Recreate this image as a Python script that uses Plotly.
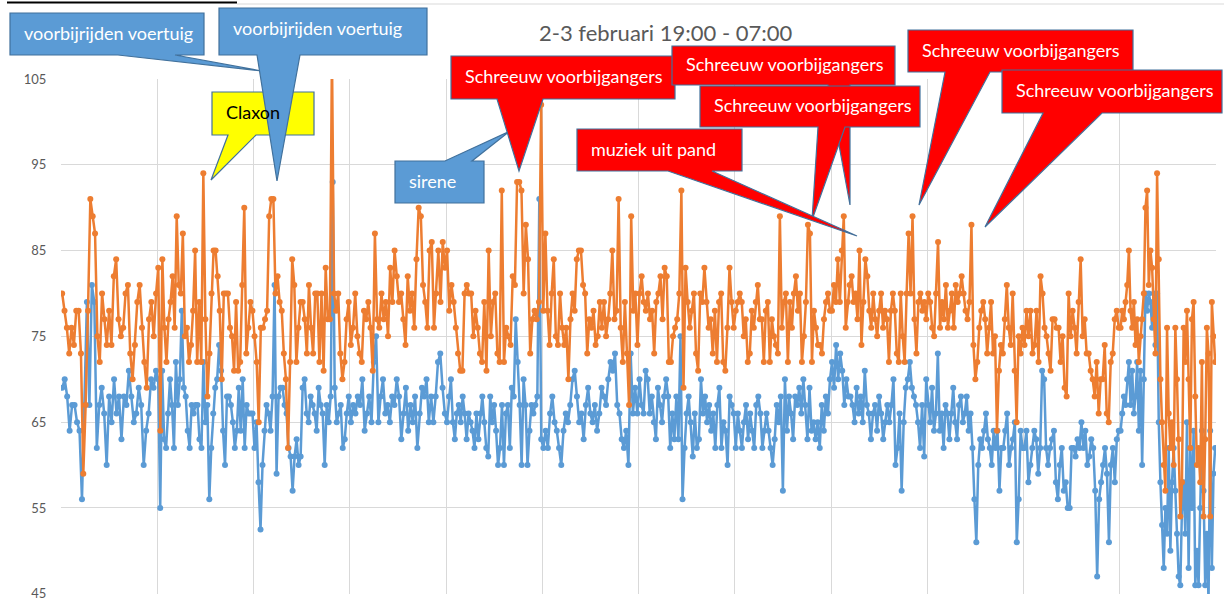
import plotly.graph_objects as go

# ---- data: noise level (dB) per hour, 2-3 februari 19:00 - 07:00 ----
b01 = [69,70,68,64,67,67,65,64,56,67,79,67,81,79,62,67,69,66,60,68,65,70,66,68,63,68,67,71,68,65,66,69,67,60,64,66,70,69,71]
o01 = [80,78,76,73,76,74,78,78,73,59,67,78,91,89,87,75,72,80,77,74,78,74,82,84,77,75,76,80,81,73,70,74,79,81,76,72,69,77,79,75,80]
b02 = [70,55,71,63,62,66,70,67,62,72,67,70,78,69,68,64,62,67,66,67,67,63,62,72,65,67,56,62,66,69,70,74,71,64,60,68,68,67,65,62,64,69,64,70,62,67,66,66,66]
o02 = [83,64,84,76,72,77,79,82,76,89,81,80,87,75,76,72,74,78,85,72,79,72,94,77,68,73,80,85,85,82,78,70,80,80,80,76,75,71,79,71,72,81,90,73,76,79,78]
b03 = [62,65,58,52.5,60,64,67,66,64,68,81,59,68,69,69,67,66,62,61,57,61,63,60,61,69,70,66,65,68,67,66,64,69,67,66,60,67,65,68,93,69,65,66,67,62,63,66,68]
o03 = [75,72,65,76,76,77,78,89,91,91,80,82,79,78,73,70,62,72,84,81,72,76,79,79,77,73,81,76,73,80,80,72,80,71,83,77,77,108,80,78,80,73,70,72,77,79]
b04 = [65,67,66,68,67,70,64,66,68,65,72,75,65,68,70,66,67,65,68,67,70,68,63,66,69,64,67,65,68,62,66,69,68,70,65,68,65,68,72,73,69,66]
o04 = [74,76,80,75,73,72,78,77,79,76,71,87,77,76,80,77,79,75,83,79,85,82,79,80,77,74,82,78,80,76,84,90,89,81,79,76,85,86,76,80,85,79,86,83]
b05 = [65,68,70,65,63,66,67,65,68,66,63,66,65,64,62,66,63,66,68,65,62,61,68,65,67,64,60,62,67,60,66,67,62,69,68,77,72,67,60,70,67,60,64,67,66,67,68,91,63]
o05 = [85,78,81,79,76,73,71,71,80,81,80,80,75,78,76,73,72,79,71,85,75,79,80,73,72,92,72,76,75,74,82,81,93,93,92,80,88,84,73,77,78,77,79,102]
b06 = [62,64,62,66,68,65,64,62,60,64,66,65,67,70,71,68,65,66,63,67,69,66,65,67,64,66,69,68,67,70,72,71,73,67,66,63,62,64,60,73,66,69,66]
o06 = [78,87,78,74,80,84,75,74,80,76,74,76,70,77,80,78,84,85,85,81,80,73,77,76,78,74,75,79,76,79,75,77,80,85,77,78,91,76,72,79,73,67,89,78,80,74]
b07 = [70,67,66,71,70,66,68,65,63,69,67,65,68,70,68,62,66,63,68,63,75,56,62,66,68,65,61,66,62,63,70,66,68,65,67,64,66,62,67,69,62,65,64,60,68,67,66]
o07 = [80,82,79,78,80,77,78,73,79,80,82,77,83,82,72,72,75,76,77,80,92,69,83,79,76,78,80,73,71,80,79,83,79,76,77,73,78,72,79,80,72,71,76,83,79,76]
b08 = [62,66,64,62,65,67,63,66,64,62,67,68,66,62,64,66,64,62,60,63,67,65,68,57,70,64,68,66,63,68,67,69,66,70,67,63,69,64,65,63,65,62,67,64,68,66,70]
o08 = [78,79,80,79,75,77,72,73,78,76,79,81,77,77,72,78,79,72,77,75,74,73,89,76,79,80,72,79,76,80,82,78,80,72,75,79,88,87,72,78,76,74,74,73,77,79,80,78]
b09 = [72,69,74,70,73,71,67,70,68,68,67,65,69,66,68,65,71,67,66,63,66,67,64,68,66,63,65,67,65,67,70,60,62,66,57,65,69,70,72,69,68,67,65,62,67,61,70]
o09 = [78,81,79,84,79,85,89,76,79,81,82,79,80,77,85,74,79,84,82,78,76,80,77,75,78,80,76,78,77,72,78,80,78,73,72,80,75,72,80,87,80,89,77,73,79,80,78,79,77]
b10 = [67,65,69,64,66,73,64,66,62,67,66,63,66,69,65,63,67,68,65,66,68,64,66,62,56,51,60,63,62,64,66,63,62,60,64,62,64,57,62,62,64,66,60,62,63,65,51,56,64,62]
o10 = [80,79,76,75,80,86,76,79,77,81,76,78,80,76,81,79,80,82,80,78,77,79,88,74,70,72,76,78,79,77,73,76,79,73,75,64,71,74,73,77,81,76,74,80,71,65,75,73,76]
b11 = [62,64,58,60,62,64,63,59,62,71,70,62,60,62,63,64,58,56,60,62,57,58,55,55,62,62,61,63,62,65,62,64,60,61,63,62,57,47,56,58,60,62,59,51,60,62,58,63,64]
o11 = [74,78,75,78,73,74,78,72,82,80,76,75,73,71,77,77,76,76,72,75,69,68,80,75,78,76,73,79,84,75,77,73,73,71,70,68,72,66,70,70,74,66,65,72,73,77,78,76]
b12 = [64,66,68,67,70,72,67,71,66,68,72,64,71,60,70,80,78,80,79,76,80,74,80,65,58,53,48,55,52,62,50,58,62,57,52,47,46,55,58,52,65,48,62,55,64,46,50,46,55,64,57,46,52,44,64,48,59,62]
o12 = [76,78,77,79,81,85,78,76,79,74,77,72,75,77,80,90,92,81,85,83,77,73,94,84,70,65,60,57,76,66,62,65,60,76,70,63,54,58,76,72,78,70,62,77,79,68,60,62,58,72,54,63,76,73,54,79,75,72]

blue_hours = [b01, b02, b03, b04, b05, b06, b07, b08, b09, b10, b11, b12]
orange_hours = [o01, o02, o03, o04, o05, o06, o07, o08, o09, o10, o11, o12]

TITLE = "2-3 februari 19:00 - 07:00"
Y_TICKS = [45, 55, 65, 75, 85, 95, 105]


def expand(hours):
    xs, ys = [], []
    for h, vals in enumerate(hours):
        n = len(vals)
        for j, v in enumerate(vals):
            xs.append(h * 60 + (j + 0.5) * 60.0 / n)
            ys.append(v)
    return xs, ys


bx, by = expand(blue_hours)
ox, oy = expand(orange_hours)

BLUE = "#5b9bd5"
ORANGE = "#ed7d31"
FONT = "Lato"

fig = go.Figure()
fig.add_trace(go.Scatter(x=bx, y=by, mode="lines+markers",
                         line=dict(color=BLUE, width=2.5),
                         marker=dict(color=BLUE, size=6),
                         showlegend=False, hoverinfo="skip"))
fig.add_trace(go.Scatter(x=ox, y=oy, mode="lines+markers",
                         line=dict(color=ORANGE, width=2.5),
                         marker=dict(color=ORANGE, size=6),
                         showlegend=False, hoverinfo="skip"))

# ---- layout geometry (reference pixels) ----
W, H = 1224, 598
PL, PR, PT, PB = 61, 1216, 79, 594


def px(x):
    return (x - PL) / (PR - PL)


def py(y):
    return (PB - y) / (PB - PT)


def P(x, y):
    return f"{px(x):.5f},{py(y):.5f}"


callouts = [
    dict(text="voorbijrijden voertuig", box=(10, 13, 204, 55), base=(118, 175), tip=(262, 71),
         side="bottom", fill=BLUE, color="white", ty=33),
    dict(text="Claxon", box=(212, 92, 314, 135), base=(228, 256), tip=(211, 180),
         side="bottom", fill="#ffff00", color="black", ty=112),
    dict(text="voorbijrijden voertuig", box=(219, 8, 427, 55), base=(257, 300), tip=(277, 181),
         side="bottom", fill=BLUE, color="white", ty=28),
    dict(text="sirene", box=(395, 161, 484, 203), base=(445, 472), tip=(510, 131),
         side="top", fill=BLUE, color="white", ty=181),
    dict(text="Schreeuw voorbijgangers", box=(451, 56, 675, 99), base=(497, 543), tip=(519, 171),
         side="bottom", fill="#ff0000", color="white", ty=76),
    dict(text="Schreeuw voorbijgangers", box=(672, 46, 895, 85), base=(828, 850), tip=(850, 205),
         side="bottom", fill="#ff0000", color="white", ty=64),
    dict(text="Schreeuw voorbijgangers", box=(700, 86, 920, 127), base=(818, 845), tip=(812, 220),
         side="bottom", fill="#ff0000", color="white", ty=105),
    dict(text="muziek uit pand", box=(577, 129, 742, 171), base=(668, 712), tip=(857, 236),
         side="bottom", fill="#ff0000", color="white", ty=149),
    dict(text="Schreeuw voorbijgangers", box=(908, 30, 1133, 72), base=(945, 990), tip=(919, 205),
         side="bottom", fill="#ff0000", color="white", ty=50),
    dict(text="Schreeuw voorbijgangers", box=(1002, 70, 1222, 113), base=(1043, 1102), tip=(985, 227),
         side="bottom", fill="#ff0000", color="white", ty=90),
]

shapes = []
annotations = []

# strip of the chart above (cut off)
shapes.append(dict(type="line", xref="paper", yref="paper", x0=px(237), x1=px(1224), y0=py(4), y1=py(4),
                   line=dict(color="#d9d9d9", width=1)))
shapes.append(dict(type="line", xref="paper", yref="paper", x0=px(7), x1=px(237), y0=py(2.5), y1=py(2.5),
                   line=dict(color="black", width=2)))

for c in callouts:
    x0, y0, x1, y1 = c["box"]
    b0, b1 = c["base"]
    tx, ty_ = c["tip"]
    if c["side"] == "bottom":
        path = (f"M {P(x0, y0)} L {P(x1, y0)} L {P(x1, y1)} L {P(b1, y1)} L {P(tx, ty_)} "
                f"L {P(b0, y1)} L {P(x0, y1)} Z")
    else:
        path = (f"M {P(x0, y1)} L {P(x0, y0)} L {P(b0, y0)} L {P(tx, ty_)} L {P(b1, y0)} "
                f"L {P(x1, y0)} L {P(x1, y1)} Z")
    shapes.append(dict(type="path", xref="paper", yref="paper", path=path,
                       fillcolor=c["fill"], line=dict(color="#41719c", width=1.2), layer="above"))
    annotations.append(dict(text=c["text"], xref="paper", yref="paper", x=px(x0 + 12), y=py(c["ty"]),
                            xanchor="left", yanchor="middle", showarrow=False,
                            font=dict(family=FONT, size=18, color=c["color"])))

annotations.append(dict(text=TITLE, xref="paper", yref="paper", x=px(665), y=py(33),
                        xanchor="center", yanchor="middle", showarrow=False,
                        font=dict(family=FONT, size=22, color="#595959")))

fig.update_layout(
    width=W, height=H,
    margin=dict(l=PL, r=W - PR, t=PT, b=H - PB, pad=0, autoexpand=False),
    paper_bgcolor="white", plot_bgcolor="white",
    shapes=shapes, annotations=annotations,
    xaxis=dict(range=[0, 720], tick0=0, dtick=60, showgrid=True, gridcolor="#d9d9d9", gridwidth=1,
               showticklabels=False, zeroline=False, showline=False, ticks="", automargin=False),
    yaxis=dict(range=[44.97, 105.0], tickvals=Y_TICKS, showgrid=True, gridcolor="#d9d9d9", gridwidth=1,
               zeroline=False, showline=False, ticks="outside", ticklen=11, tickcolor="rgba(0,0,0,0)",
               ticklabeloverflow="allow", automargin=False,
               tickfont=dict(family=FONT, size=13, color="#595959")),
    showlegend=False,
)

fig.write_html("out.html", config={"displayModeBar": False},
               post_script="document.body.style.margin='0';document.body.style.overflow='hidden';")
